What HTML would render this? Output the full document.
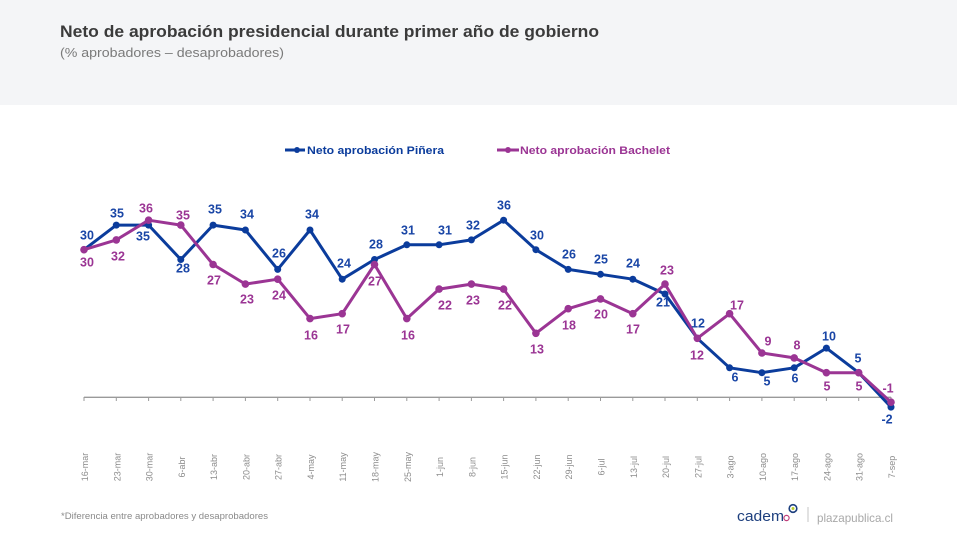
<!DOCTYPE html>
<html><head><meta charset="utf-8"><style>
html,body{margin:0;padding:0;background:#fff;}
body{width:957px;height:537px;overflow:hidden;position:relative;font-family:"Liberation Sans",sans-serif;}
svg{position:absolute;left:0;top:0;}
</style></head><body>
<svg width="957" height="537" viewBox="0 0 957 537" xmlns="http://www.w3.org/2000/svg" font-family="Liberation Sans, sans-serif">
<rect x="0" y="0" width="957" height="105" fill="#f4f5f7"/>
<text x="60" y="37" font-size="17" font-weight="bold" fill="#3b3b3b" textLength="539" lengthAdjust="spacingAndGlyphs">Neto de aprobación presidencial durante primer año de gobierno</text>
<text x="60" y="57" font-size="13" fill="#7a7a7a" textLength="224" lengthAdjust="spacingAndGlyphs">(% aprobadores – desaprobadores)</text>

<!-- legend -->
<line x1="285" y1="150" x2="305" y2="150" stroke="#0b3c9c" stroke-width="3"/>
<circle cx="297" cy="150" r="3" fill="#0b3c9c"/>
<text x="307" y="154" font-size="11" font-weight="bold" fill="#0b3c9c" textLength="137" lengthAdjust="spacingAndGlyphs">Neto aprobación Piñera</text>
<line x1="497" y1="150" x2="519" y2="150" stroke="#9b3594" stroke-width="3"/>
<circle cx="508" cy="150" r="3" fill="#9b3594"/>
<text x="520" y="154" font-size="11" font-weight="bold" fill="#9b3594" textLength="150" lengthAdjust="spacingAndGlyphs">Neto aprobación Bachelet</text>

<!-- axis -->
<line x1="84" y1="397.3" x2="891" y2="397.3" stroke="#9a9a9a" stroke-width="1.3"/>
<g stroke="#9a9a9a" stroke-width="1">
<line x1="84" y1="397" x2="84" y2="401"/><line x1="116.3" y1="397" x2="116.3" y2="401"/><line x1="148.6" y1="397" x2="148.6" y2="401"/><line x1="180.8" y1="397" x2="180.8" y2="401"/><line x1="213.1" y1="397" x2="213.1" y2="401"/><line x1="245.4" y1="397" x2="245.4" y2="401"/><line x1="277.7" y1="397" x2="277.7" y2="401"/><line x1="310" y1="397" x2="310" y2="401"/><line x1="342.2" y1="397" x2="342.2" y2="401"/><line x1="374.5" y1="397" x2="374.5" y2="401"/><line x1="406.8" y1="397" x2="406.8" y2="401"/><line x1="439.1" y1="397" x2="439.1" y2="401"/><line x1="471.4" y1="397" x2="471.4" y2="401"/><line x1="503.6" y1="397" x2="503.6" y2="401"/><line x1="535.9" y1="397" x2="535.9" y2="401"/><line x1="568.2" y1="397" x2="568.2" y2="401"/><line x1="600.5" y1="397" x2="600.5" y2="401"/><line x1="632.8" y1="397" x2="632.8" y2="401"/><line x1="665" y1="397" x2="665" y2="401"/><line x1="697.3" y1="397" x2="697.3" y2="401"/><line x1="729.6" y1="397" x2="729.6" y2="401"/><line x1="761.9" y1="397" x2="761.9" y2="401"/><line x1="794.2" y1="397" x2="794.2" y2="401"/><line x1="826.4" y1="397" x2="826.4" y2="401"/><line x1="858.7" y1="397" x2="858.7" y2="401"/><line x1="891" y1="397" x2="891" y2="401"/>
</g>

<!-- tick labels -->
<g font-size="9" fill="#8c8c8c" text-anchor="middle">
<text transform="translate(88,467) rotate(-90)">16-mar</text>
<text transform="translate(120.3,467) rotate(-90)">23-mar</text>
<text transform="translate(152.6,467) rotate(-90)">30-mar</text>
<text transform="translate(184.8,467) rotate(-90)">6-abr</text>
<text transform="translate(217.1,467) rotate(-90)">13-abr</text>
<text transform="translate(249.4,467) rotate(-90)">20-abr</text>
<text transform="translate(281.7,467) rotate(-90)">27-abr</text>
<text transform="translate(314,467) rotate(-90)">4-may</text>
<text transform="translate(346.2,467) rotate(-90)">11-may</text>
<text transform="translate(378.5,467) rotate(-90)">18-may</text>
<text transform="translate(410.8,467) rotate(-90)">25-may</text>
<text transform="translate(443.1,467) rotate(-90)">1-jun</text>
<text transform="translate(475.4,467) rotate(-90)">8-jun</text>
<text transform="translate(507.6,467) rotate(-90)">15-jun</text>
<text transform="translate(539.9,467) rotate(-90)">22-jun</text>
<text transform="translate(572.2,467) rotate(-90)">29-jun</text>
<text transform="translate(604.5,467) rotate(-90)">6-jul</text>
<text transform="translate(636.8,467) rotate(-90)">13-jul</text>
<text transform="translate(669,467) rotate(-90)">20-jul</text>
<text transform="translate(701.3,467) rotate(-90)">27-jul</text>
<text transform="translate(733.6,467) rotate(-90)">3-ago</text>
<text transform="translate(765.9,467) rotate(-90)">10-ago</text>
<text transform="translate(798.2,467) rotate(-90)">17-ago</text>
<text transform="translate(830.4,467) rotate(-90)">24-ago</text>
<text transform="translate(862.7,467) rotate(-90)">31-ago</text>
<text transform="translate(895,467) rotate(-90)">7-sep</text>
</g>

<!-- Piñera -->
<polyline fill="none" stroke="#0b3c9c" stroke-width="3" stroke-linejoin="round" points="84,249.7 116.3,225.1 148.6,225.1 180.8,259.5 213.1,225.1 245.4,230.0 277.7,269.4 310.0,230.0 342.2,279.2 374.5,259.5 406.8,244.8 439.1,244.8 471.4,239.9 503.6,220.2 535.9,249.7 568.2,269.4 600.5,274.3 632.8,279.2 665.0,294.0 697.3,338.3 729.6,367.8 761.9,372.7 794.2,367.8 826.4,348.1 858.7,372.7 891,407.1"/>
<g fill="#0b3c9c">
<circle cx="84" cy="249.7" r="3.5"/><circle cx="116.3" cy="225.1" r="3.5"/><circle cx="148.6" cy="225.1" r="3.5"/><circle cx="180.8" cy="259.5" r="3.5"/><circle cx="213.1" cy="225.1" r="3.5"/><circle cx="245.4" cy="230" r="3.5"/><circle cx="277.7" cy="269.4" r="3.5"/><circle cx="310" cy="230" r="3.5"/><circle cx="342.2" cy="279.2" r="3.5"/><circle cx="374.5" cy="259.5" r="3.5"/><circle cx="406.8" cy="244.8" r="3.5"/><circle cx="439.1" cy="244.8" r="3.5"/><circle cx="471.4" cy="239.9" r="3.5"/><circle cx="503.6" cy="220.2" r="3.5"/><circle cx="535.9" cy="249.7" r="3.5"/><circle cx="568.2" cy="269.4" r="3.5"/><circle cx="600.5" cy="274.3" r="3.5"/><circle cx="632.8" cy="279.2" r="3.5"/><circle cx="665" cy="294" r="3.5"/><circle cx="697.3" cy="338.3" r="3.5"/><circle cx="729.6" cy="367.8" r="3.5"/><circle cx="761.9" cy="372.7" r="3.5"/><circle cx="794.2" cy="367.8" r="3.5"/><circle cx="826.4" cy="348.1" r="3.5"/><circle cx="858.7" cy="372.7" r="3.5"/><circle cx="891" cy="407.1" r="3.5"/>
</g>

<!-- Bachelet -->
<polyline fill="none" stroke="#9b3594" stroke-width="3" stroke-linejoin="round" points="84,249.7 116.3,239.9 148.6,220.2 180.8,225.1 213.1,264.5 245.4,284.1 277.7,279.2 310.0,318.6 342.2,313.7 374.5,264.5 406.8,318.6 439.1,289.1 471.4,284.1 503.6,289.1 535.9,333.3 568.2,308.7 600.5,298.9 632.8,313.7 665.0,284.1 697.3,338.3 729.6,313.7 761.9,353.0 794.2,357.9 826.4,372.7 858.7,372.7 891,402.2"/>
<g fill="#9b3594">
<circle cx="84" cy="249.7" r="3.8"/><circle cx="116.3" cy="239.9" r="3.8"/><circle cx="148.6" cy="220.2" r="3.8"/><circle cx="180.8" cy="225.1" r="3.8"/><circle cx="213.1" cy="264.5" r="3.8"/><circle cx="245.4" cy="284.1" r="3.8"/><circle cx="277.7" cy="279.2" r="3.8"/><circle cx="310" cy="318.6" r="3.8"/><circle cx="342.2" cy="313.7" r="3.8"/><circle cx="374.5" cy="264.5" r="3.8"/><circle cx="406.8" cy="318.6" r="3.8"/><circle cx="439.1" cy="289.1" r="3.8"/><circle cx="471.4" cy="284.1" r="3.8"/><circle cx="503.6" cy="289.1" r="3.8"/><circle cx="535.9" cy="333.3" r="3.8"/><circle cx="568.2" cy="308.7" r="3.8"/><circle cx="600.5" cy="298.9" r="3.8"/><circle cx="632.8" cy="313.7" r="3.8"/><circle cx="665" cy="284.1" r="3.8"/><circle cx="697.3" cy="338.3" r="3.8"/><circle cx="729.6" cy="313.7" r="3.8"/><circle cx="761.9" cy="353" r="3.8"/><circle cx="794.2" cy="357.9" r="3.8"/><circle cx="826.4" cy="372.7" r="3.8"/><circle cx="858.7" cy="372.7" r="3.8"/><circle cx="891" cy="402.2" r="3.8"/>
</g>

<!-- Piñera labels -->
<g font-size="12.5" font-weight="bold" fill="#1a46a6" text-anchor="middle">
<text x="87" y="239.5">30</text><text x="117" y="217.5">35</text><text x="143" y="240.5">35</text><text x="183" y="272.5">28</text><text x="215" y="213.5">35</text><text x="247" y="218.5">34</text><text x="279" y="257.5">26</text><text x="312" y="218.5">34</text><text x="344" y="267.5">24</text><text x="376" y="248.5">28</text><text x="408" y="234.5">31</text><text x="445" y="234.5">31</text><text x="473" y="229.5">32</text><text x="504" y="209.5">36</text><text x="537" y="239.5">30</text><text x="569" y="258.5">26</text><text x="601" y="263.5">25</text><text x="633" y="267.5">24</text><text x="663" y="306.5">21</text><text x="698" y="327.5">12</text><text x="735" y="381.5">6</text><text x="767" y="385.5">5</text><text x="795" y="382.5">6</text><text x="829" y="340.5">10</text><text x="858" y="362.5">5</text><text x="887" y="423.5">-2</text>
</g>

<!-- Bachelet labels -->
<g font-size="12.5" font-weight="bold" fill="#9b3594" text-anchor="middle">
<text x="87" y="266.5">30</text><text x="118" y="260.5">32</text><text x="146" y="212.5">36</text><text x="183" y="219.5">35</text><text x="214" y="284.5">27</text><text x="247" y="303.5">23</text><text x="279" y="299.5">24</text><text x="311" y="339.5">16</text><text x="343" y="333.5">17</text><text x="375" y="285.5">27</text><text x="408" y="339.5">16</text><text x="445" y="309.5">22</text><text x="473" y="304.5">23</text><text x="505" y="309.5">22</text><text x="537" y="353.5">13</text><text x="569" y="329.5">18</text><text x="601" y="318.5">20</text><text x="633" y="333.5">17</text><text x="667" y="274.5">23</text><text x="697" y="359.5">12</text><text x="737" y="309.5">17</text><text x="768" y="345.5">9</text><text x="797" y="349.5">8</text><text x="827" y="390.5">5</text><text x="859" y="390.5">5</text><text x="888" y="392.5">-1</text>
</g>

<!-- footer -->
<text x="61" y="519" font-size="9" fill="#8a8a8a" textLength="207" lengthAdjust="spacingAndGlyphs">*Diferencia entre aprobadores y desaprobadores</text>
<text x="737" y="521" font-size="15" fill="#1d3f7e" textLength="47" lengthAdjust="spacingAndGlyphs">cadem</text>
<circle cx="786.5" cy="518" r="2.6" fill="none" stroke="#c0407a" stroke-width="1.2"/>
<circle cx="793" cy="508.5" r="3.8" fill="none" stroke="#1d3f7e" stroke-width="1.6"/>
<circle cx="793" cy="508.5" r="1.5" fill="#b8cc2a"/>
<line x1="808" y1="507" x2="808" y2="522" stroke="#c4c4c4" stroke-width="1"/>
<text x="817" y="522" font-size="12" fill="#a8a8a8" textLength="76" lengthAdjust="spacingAndGlyphs">plazapublica.cl</text>
</svg>
</body></html>
